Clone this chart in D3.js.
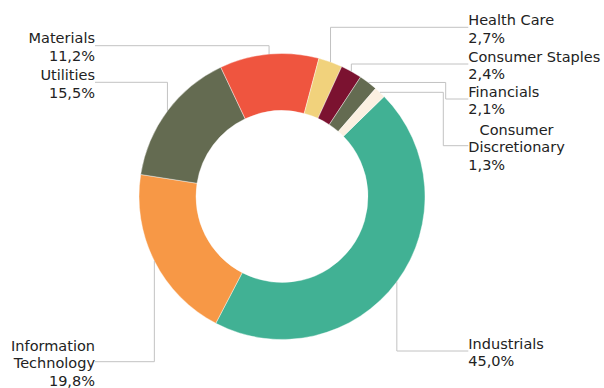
<!DOCTYPE html>
<html>
<head>
<meta charset="utf-8">
<script src="https://cdn.jsdelivr.net/npm/d3@7"></script>
<style>
  html, body { margin: 0; padding: 0; background: #fff; }
  svg { display: block; }
  text { font-family: "DejaVu Sans", Verdana, sans-serif; font-size: 14.5px; fill: #222; }
</style>
</head>
<body>
<svg id="chart" width="604" height="388"></svg>
<script>
// Sector weights (%), in drawing order clockwise
const sectors = ["Industrials", "Information Technology", "Utilities", "Materials",
                 "Health Care", "Consumer Staples", "Financials", "Consumer Discretionary"];
const shares = [45.0, 19.8, 15.5, 11.2, 2.7, 2.4, 2.1, 1.3];
const colors = ["#41b194", "#f79846", "#646b51", "#ef553f",
                "#f1d27c", "#7b1230", "#646b51", "#fbf0e1"];
// Label text, split into lines
const labelLines = [
  ["Industrials"],
  ["Information", "Technology"],
  ["Utilities"],
  ["Materials"],
  ["Health Care"],
  ["Consumer Staples"],
  ["Financials"],
  ["Consumer", "Discretionary"]
];

const svg = d3.select("#chart");
const cx = 282, cy = 196.5, outerR = 143, innerR = 86;
const lineH = 17.6;
const rightX = 468.3, leftX = 95;

// Where each label's leader ends (side, leader y, optional elbow x)
const labelLayout = {
  "Industrials":            { side: "right", y: 351 },
  "Information Technology": { side: "left",  y: 361.7 },
  "Utilities":              { side: "left",  y: 82.3 },
  "Materials":              { side: "left",  y: 45.7 },
  "Health Care":            { side: "right", y: 27.3 },
  "Consumer Staples":       { side: "right", y: 64 },
  "Financials":             { side: "right", y: 99, elbow: 445.7 },
  "Consumer Discretionary": { side: "right", y: 145.7, elbow: 443.3, centerFirst: true }
};

const data = sectors.map((s, i) => ({ sector: s, share: shares[i], color: colors[i], lines: labelLines[i] }));

const pie = d3.pie()
  .value(d => d.share)
  .sort(null)
  .startAngle(Math.PI / 4 + 0.01)
  .endAngle(Math.PI / 4 + 0.01 + 2 * Math.PI);

const arc = d3.arc().innerRadius(innerR).outerRadius(outerR);
const arcs = pie(data);

const g = svg.append("g").attr("transform", `translate(${cx},${cy})`);

g.selectAll("path.slice")
  .data(arcs)
  .join("path")
  .attr("class", "slice")
  .attr("d", arc)
  .attr("fill", d => d.data.color)
  .attr("stroke", "#fff")
  .attr("stroke-width", 0.4);

const fmt = v => d3.format(".1f")(v).replace(".", ",") + "%";

// Leader lines and label blocks
arcs.forEach(a => {
  const mid = (a.startAngle + a.endAngle) / 2;
  const px = cx + outerR * Math.sin(mid);
  const py = cy - outerR * Math.cos(mid);
  const lay = labelLayout[a.data.sector];
  const endX = lay.side === "right" ? rightX : leftX;
  let pts;
  if (lay.elbow !== undefined) {
    pts = [[px, py], [lay.elbow, py], [lay.elbow, lay.y], [endX, lay.y]];
  } else {
    pts = [[px, py], [px, lay.y], [endX, lay.y]];
  }
  svg.append("path")
    .attr("d", d3.line()(pts))
    .attr("fill", "none")
    .attr("stroke", "#c2c2c2")
    .attr("stroke-width", 1);

  const lines = a.data.lines.concat([fmt(a.data.share)]);
  const n = lines.length;
  const txt = svg.append("g");
  const anchor = lay.side === "right" ? "start" : "end";
  const nodes = lines.map((t, i) => txt.append("text")
    .attr("x", endX)
    .attr("y", lay.y + (i - (n - 1) / 2) * lineH + 1.5)
    .attr("dy", "0.35em")
    .attr("text-anchor", anchor)
    .text(t));
  if (lay.centerFirst) {
    const w = nodes[1].node().getComputedTextLength();
    nodes[0].attr("text-anchor", "middle").attr("x", endX + w / 2);
  }
});
</script>
</body>
</html>
